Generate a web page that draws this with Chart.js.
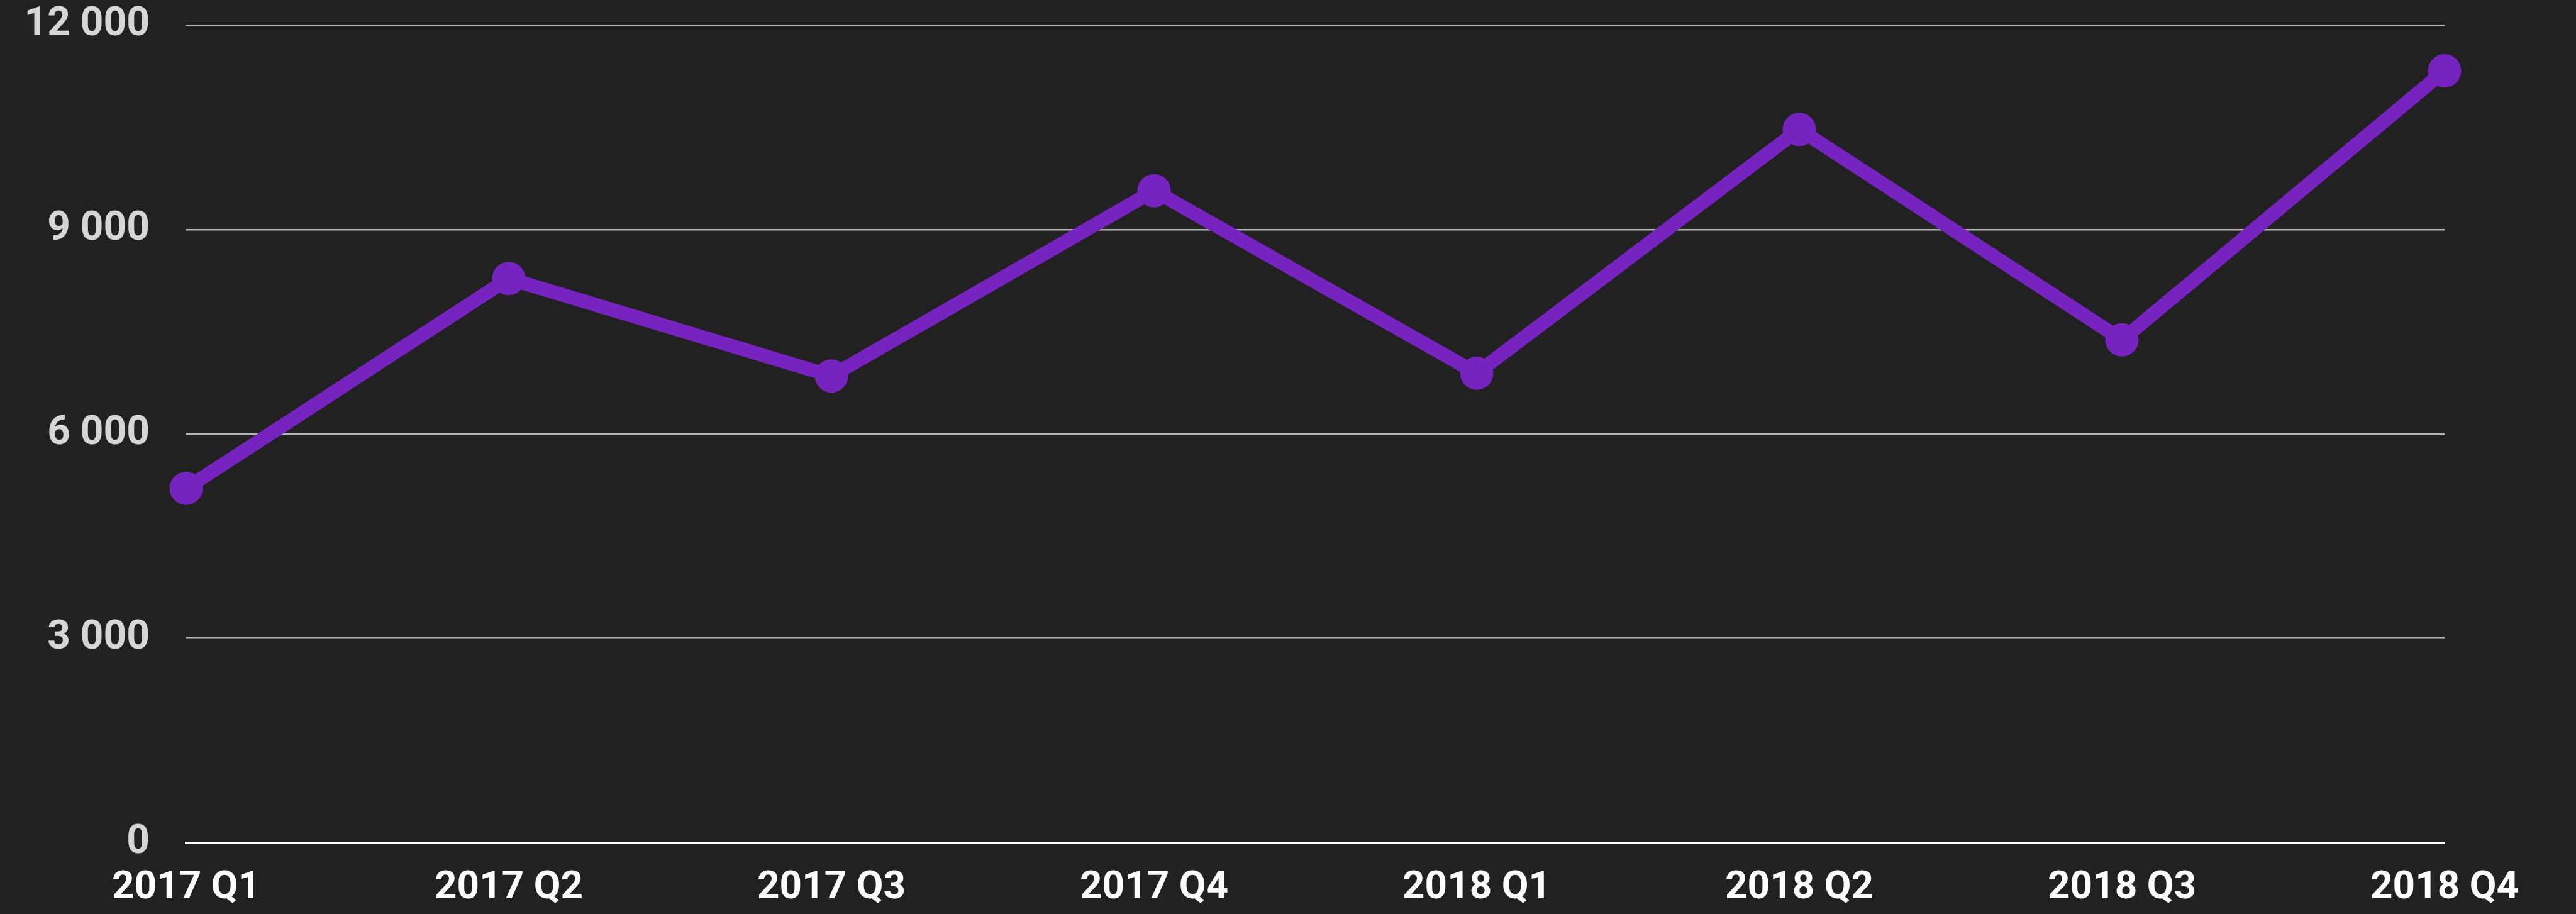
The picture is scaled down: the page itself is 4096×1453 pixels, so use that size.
<!DOCTYPE html>
<html>
<head>
<meta charset="utf-8">
<script src="https://cdn.jsdelivr.net/npm/chart.js@4/dist/chart.umd.min.js"></script>
<style>
html,body{margin:0;padding:0;background:#212121;}
#wrap{position:relative;width:4096px;height:1453px;}
</style>
</head>
<body>
<div id="wrap"><canvas id="c" width="4096" height="1453"></canvas></div>
<script>
const categories = ["2017 Q1","2017 Q2","2017 Q3","2017 Q4","2018 Q1","2018 Q2","2018 Q3","2018 Q4"];
const seriesValues = [5200, 8280, 6850, 9570, 6890, 10470, 7380, 11330];
const yTicks = [0, 3000, 6000, 9000, 12000];

const purple = "#7623bf";
const fontFamily = "Roboto, 'Noto Sans', sans-serif";

new Chart(document.getElementById("c"), {
  type: "line",
  data: {
    labels: categories,
    datasets: [{
      data: seriesValues,
      borderColor: purple,
      backgroundColor: purple,
      borderWidth: 22,
      pointRadius: 26.5,
      pointHoverRadius: 26.5,
      pointBorderWidth: 0,
      pointBackgroundColor: purple,
      tension: 0,
      fill: false
    }]
  },
  options: {
    responsive: false,
    animation: false,
    devicePixelRatio: 1,
    layout: { padding: { top: 40, right: 209, left: 0, bottom: 0 } },
    plugins: { legend: { display: false }, tooltip: { enabled: false } },
    scales: {
      x: {
        offset: false,
        grid: { display: false, drawTicks: false },
        border: { display: true, color: "#ffffff", width: 4 },
        ticks: {
          color: "#ffffff",
          font: { family: fontFamily, size: 62, weight: "bold" },
          padding: 36,
          maxRotation: 0,
          autoSkip: false
        },
        afterFit: (s) => { s.height = 113.5; s.paddingLeft = 0; s.paddingRight = 0; }
      },
      y: {
        min: 0,
        max: 12000,
        afterBuildTicks: (s) => { s.ticks = yTicks.map(v => ({ value: v })); },
        grid: {
          color: (ctx) => ctx.tick && ctx.tick.value === 0 ? "rgba(0,0,0,0)" : "#b4b4b4",
          lineWidth: 2.5,
          drawTicks: false
        },
        border: { display: false },
        ticks: {
          color: "#d6d6d6",
          font: { family: fontFamily, size: 64, weight: "bold" },
          padding: 58,
          callback: (v) => String(v).replace(/\B(?=(\d{3})+(?!\d))/g, " ")
        },
        afterFit: (s) => { s.width = 296; s.paddingTop = 0; s.paddingBottom = 0; }
      }
    }
  }
});
</script>
</body>
</html>
